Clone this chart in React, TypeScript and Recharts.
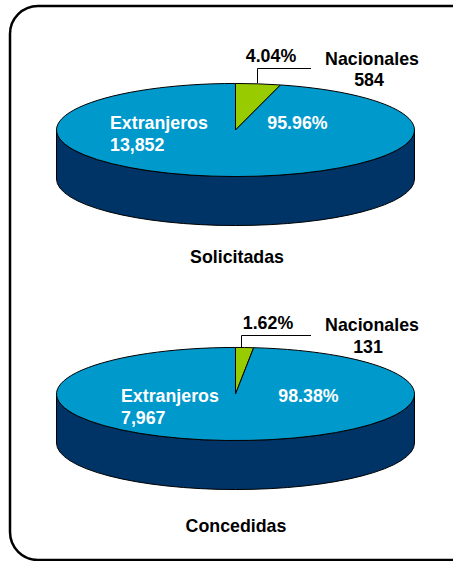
import { PieChart, Pie, Cell } from "recharts";

const categories = ["Nacionales", "Extranjeros"];
const solicitadas = [584, 13852];
const concedidas = [131, 7967];
const solicitadasPct = ["4.04%", "95.96%"];
const concedidasPct = ["1.62%", "98.38%"];

const toRows = (values: number[]) =>
  categories.map((name, i) => ({ name, value: values[i] }));

const RADIUS = 179;
const SQUASH = 0.26;
const DEPTH = 49;
const FONT = "Arial, 'Liberation Sans', sans-serif";
const topColors = ["#99CC00", "#0099CC"];

const pt = (cx: number, cy: number, deg: number) => {
  const a = (deg * Math.PI) / 180;
  return [cx + RADIUS * Math.cos(a), cy - RADIUS * SQUASH * Math.sin(a)];
};

// flat sector of the ellipse
const TopSlice = (props: any) => {
  const { cx, cy, startAngle, endAngle, fill } = props;
  const [x1, y1] = pt(cx, cy, startAngle);
  const [x2, y2] = pt(cx, cy, endAngle);
  const large = Math.abs(startAngle - endAngle) > 180 ? 1 : 0;
  const d = `M${cx},${cy}L${x1},${y1}A${RADIUS},${RADIUS * SQUASH} 0 ${large} 1 ${x2},${y2}Z`;
  return <path d={d} fill={fill} stroke="#000" strokeWidth={1} />;
};

// visible wall under the front half of the ellipse
const SideSlice = (props: any) => {
  const { cx, cy, startAngle, endAngle } = props;
  const hi = Math.min(startAngle, 0);
  const lo = Math.max(endAngle, -180);
  if (hi <= lo) return <g />;
  const [x1, y1] = pt(cx, cy, hi);
  const [x2, y2] = pt(cx, cy, lo);
  const rx = RADIUS;
  const ry = RADIUS * SQUASH;
  const d = `M${x1},${y1}A${rx},${ry} 0 0 1 ${x2},${y2}L${x2},${y2 + DEPTH}A${rx},${ry} 0 0 0 ${x1},${y1 + DEPTH}Z`;
  return <path d={d} fill="#003366" stroke="#000" strokeWidth={1} />;
};

const Label = ({ x, y, fill = "#000", anchor = "middle", children }: any) => (
  <text x={x} y={y} fill={fill} textAnchor={anchor} fontFamily={FONT} fontSize={17.8} fontWeight="bold">
    {children}
  </text>
);

const fmt = (n: number) => n.toLocaleString("en-US");

// white labels sit on the big slice, so they go through the Pie's own label hook
const whiteLabels =
  (values: number[], pct: string[], nameX: number, y: number, pctX: number) =>
  ({ index }: any) =>
    index === 1 ? (
      <g>
        <Label x={nameX} y={y} fill="#fff" anchor="start">{categories[1]}</Label>
        <Label x={nameX} y={y + 22} fill="#fff" anchor="start">{fmt(values[1])}</Label>
        <Label x={pctX} y={y} fill="#fff">{pct[1]}</Label>
      </g>
    ) : (
      <g />
    );

export default function App() {
  return (
    <div style={{ position: "absolute", left: 0, top: 0, width: 453, height: 561 }}>
      <PieChart width={453} height={561} margin={{ top: 0, right: 0, bottom: 0, left: 0 }}>
        <rect x={10} y={6} width={470} height={554} rx={28} ry={28} fill="#fff" stroke="#000" strokeWidth={2.5} />

        <Pie data={toRows(solicitadas)} dataKey="value" cx={235.5} cy={130} outerRadius={RADIUS} startAngle={90} endAngle={-270}
          shape={SideSlice} isAnimationActive={false} />
        <Pie data={toRows(solicitadas)} dataKey="value" cx={235.5} cy={130} outerRadius={RADIUS} startAngle={90} endAngle={-270}
          shape={TopSlice} isAnimationActive={false} labelLine={false}
          label={whiteLabels(solicitadas, solicitadasPct, 110, 129, 297.5)}>
          {topColors.map((c) => <Cell key={c} fill={c} />)}
        </Pie>

        <Pie data={toRows(concedidas)} dataKey="value" cx={235.5} cy={394} outerRadius={RADIUS} startAngle={90} endAngle={-270}
          shape={SideSlice} isAnimationActive={false} />
        <Pie data={toRows(concedidas)} dataKey="value" cx={235.5} cy={394} outerRadius={RADIUS} startAngle={90} endAngle={-270}
          shape={TopSlice} isAnimationActive={false} labelLine={false}
          label={whiteLabels(concedidas, concedidasPct, 121, 402, 308.5)}>
          {topColors.map((c) => <Cell key={c} fill={c} />)}
        </Pie>

        <polyline points="257.5,83 257.5,68.5 311,68.5" fill="none" stroke="#000" strokeWidth={1} />
        <polyline points="241.5,348 241.5,335.5 311,335.5" fill="none" stroke="#000" strokeWidth={1} />

        <Label x={271} y={62}>{solicitadasPct[0]}</Label>
        <Label x={372} y={65}>{categories[0]}</Label>
        <Label x={369} y={86}>{fmt(solicitadas[0])}</Label>
        <Label x={237} y={263}>Solicitadas</Label>

        <Label x={268} y={329}>{concedidasPct[0]}</Label>
        <Label x={372} y={331}>{categories[0]}</Label>
        <Label x={368} y={353}>{fmt(concedidas[0])}</Label>
        <Label x={236} y={532}>Concedidas</Label>
      </PieChart>
    </div>
  );
}
